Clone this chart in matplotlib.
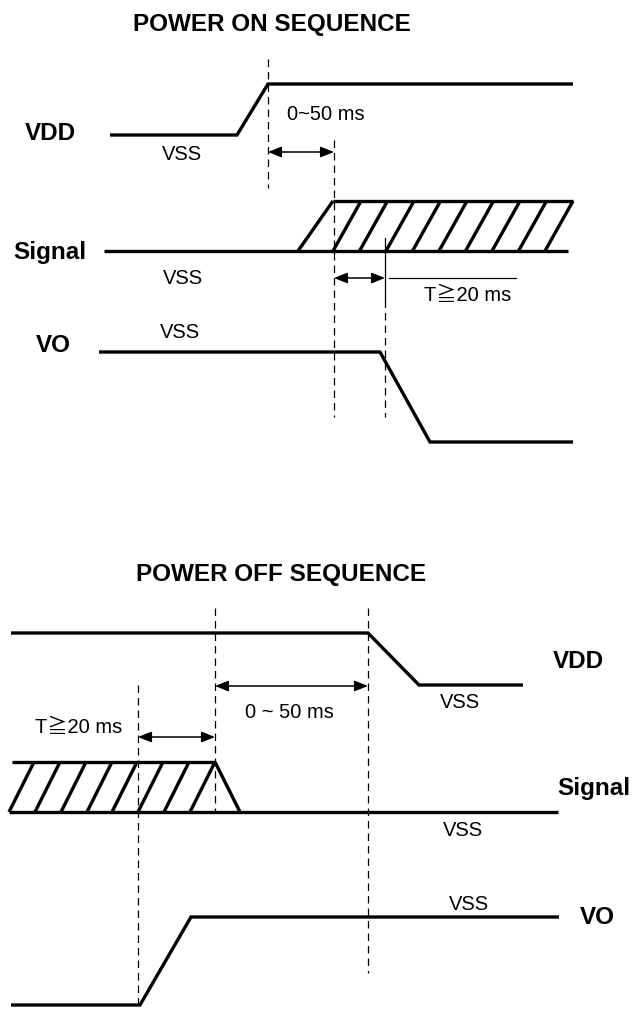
import matplotlib.pyplot as plt

### DATA (pixel coordinates of the reference, y grows downwards)

# power on sequence
on_vdd_x = [110, 237, 268, 573]
on_vdd_y = [135, 135, 84, 84]
on_sig_low = [104, 568, 251]          # x start, x end, y
on_sig_high = [333, 573, 201]         # x start, x end, y
on_sig_edge_x = [298, 333]
on_hatch_bottom = [333, 359.5, 386, 412.5, 439, 465.5, 492, 518.5, 545]
on_hatch_dx = 28
on_vo_x = [99, 380, 430, 573]
on_vo_y = [352, 352, 442, 442]
on_dash_x = [268, 334, 385]
on_dash_top = [59, 140, 300]
on_dash_bot = [188, 417, 417]

# power off sequence
off_vdd_x = [11, 368, 419, 523]
off_vdd_y = [633, 633, 685, 685]
off_sig_low = [9, 558, 812]
off_sig_high = [12, 215, 762]
off_sig_edge_x = [215, 240]
off_hatch_bottom = [9, 35, 61, 87, 112, 138, 164, 190]
off_hatch_dx = 25
off_vo_x = [11, 140, 191, 559]
off_vo_y = [1005, 1005, 917, 917]
off_dash_x = [138, 215, 368]
off_dash_top = [685, 608, 608]
off_dash_bot = [1005, 812, 973]

# double arrows: x from, x to, y
arrows = [(268, 334, 152), (334, 385, 278), (215, 368, 686), (138, 215, 737)]

# bold labels: text, x, y
bold_labels = [
    ("POWER ON SEQUENCE", 272, 24),
    ("VDD", 50, 134),
    ("Signal", 50, 252),
    ("VO", 53, 346),
    ("POWER OFF SEQUENCE", 281, 574),
    ("VDD", 578, 662),
    ("Signal", 594, 788),
    ("VO", 597, 917),
]

# normal labels: text, x, y
labels = [
    ("VSS", 182, 154),
    ("0~50 ms", 326, 114),
    ("VSS", 183, 278),
    ("T\u226720 ms", 468, 295),
    ("VSS", 180, 333),
    ("VSS", 460, 703),
    ("0 ~ 50 ms", 289, 712),
    ("T\u226720 ms", 79, 727),
    ("VSS", 463, 831),
    ("VSS", 469, 905),
]

### DRAWING

wave = dict(color='black', lw=2.4, solid_capstyle='butt', solid_joinstyle='miter')
dash = dict(color='black', lw=0.9, linestyle=(0, (6, 4)))

fig = plt.figure(figsize=(6.37, 10.09), dpi=100)
ax = fig.add_axes([0, 0, 1, 1])
ax.set_xlim(0, 637)
ax.set_ylim(1009, 0)
ax.axis('off')


def draw_signal(low, high, edge_x, hatch_bottom, hatch_dx, rising):
    """low/high rails, one edge and the hatched (undefined) zone"""
    ax.plot([low[0], low[1]], [low[2], low[2]], **wave)
    ax.plot([high[0], high[1]], [high[2], high[2]], **wave)
    if rising:
        ax.plot(edge_x, [low[2], high[2]], **wave)
    else:
        ax.plot(edge_x, [high[2], low[2]], **wave)
    for xb in hatch_bottom:
        xt = min(xb + hatch_dx, high[1])
        ax.plot([xb, xt], [low[2], high[2]], **wave)


# power on
ax.plot(on_vdd_x, on_vdd_y, **wave)
draw_signal(on_sig_low, on_sig_high, on_sig_edge_x, on_hatch_bottom, on_hatch_dx, True)
ax.plot(on_vo_x, on_vo_y, **wave)
for x, y0, y1 in zip(on_dash_x, on_dash_top, on_dash_bot):
    ax.plot([x, x], [y0, y1], **dash)
# solid tick of the T>=20 ms marker and its leader line
ax.plot([385, 385], [238, 300], color='black', lw=0.9)
ax.plot([389, 516], [278, 278], color='black', lw=0.9)

# power off
ax.plot(off_vdd_x, off_vdd_y, **wave)
draw_signal(off_sig_low, off_sig_high, off_sig_edge_x, off_hatch_bottom, off_hatch_dx, False)
ax.plot(off_vo_x, off_vo_y, **wave)
for x, y0, y1 in zip(off_dash_x, off_dash_top, off_dash_bot):
    ax.plot([x, x], [y0, y1], **dash)

for x0, x1, y in arrows:
    ax.annotate('', xy=(x1, y), xytext=(x0, y),
                arrowprops=dict(arrowstyle='<|-|>,head_length=0.45,head_width=0.18',
                                color='black', lw=1.1, shrinkA=0, shrinkB=0,
                                mutation_scale=18))

for txt, x, y in bold_labels:
    ax.text(x, y, txt, ha='center', va='center', fontsize=17.5, fontweight='bold',
            family=['Liberation Sans', 'DejaVu Sans'])

for txt, x, y in labels:
    ax.text(x, y, txt, ha='center', va='center', fontsize=14.5,
            family=['Liberation Sans', 'Noto Sans CJK JP', 'DejaVu Sans'])

fig.savefig('out.png', dpi=100)
